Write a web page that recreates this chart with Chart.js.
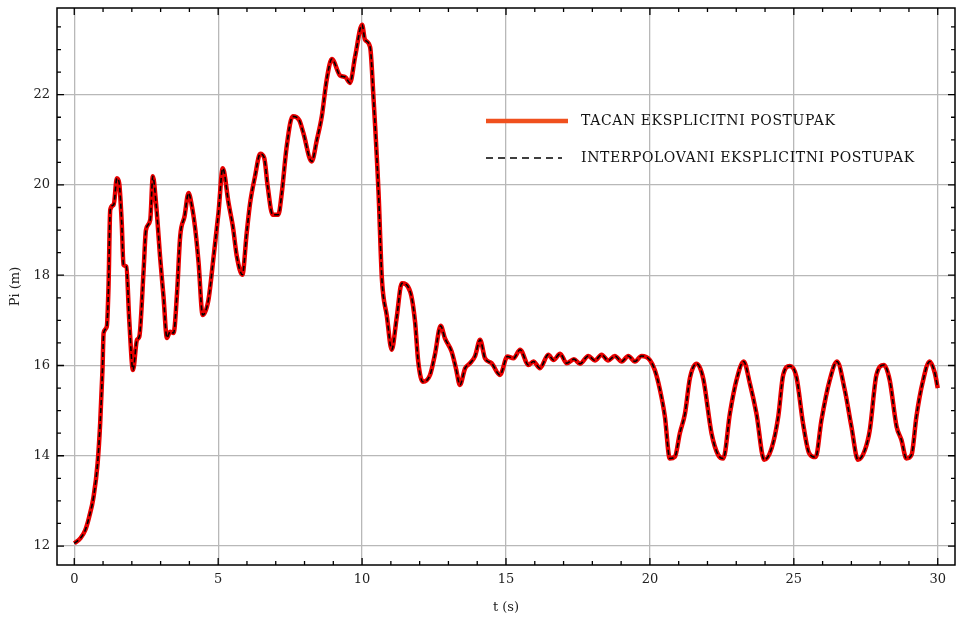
<!DOCTYPE html>
<html>
<head>
<meta charset="utf-8">
<script src="https://cdn.jsdelivr.net/npm/chart.js@4"></script>
<style>
  body { margin: 0; background: #fff; }
</style>
</head>
<body>
<canvas id="myChart" width="957" height="620"></canvas>
<script>
// t (s) and Pi (m)
const tValues = [0, 0.21, 0.38, 0.52, 0.67, 0.81, 0.90, 0.98, 1.02, 1.13, 1.19, 1.25, 1.37, 1.48, 1.56, 1.65, 1.71, 1.81, 1.91, 2.04,
  2.18, 2.26, 2.41, 2.49, 2.64, 2.73, 2.84, 2.99, 3.10, 3.22, 3.33, 3.45, 3.57, 3.68, 3.83, 3.97, 4.09, 4.20, 4.32, 4.46,
  4.66, 4.84, 5.01, 5.16, 5.36, 5.51, 5.65, 5.84, 5.99, 6.11, 6.28, 6.46, 6.60, 6.72, 6.89, 7.09, 7.21, 7.38, 7.59, 7.82,
  7.96, 8.25, 8.43, 8.60, 8.77, 8.95, 9.24, 9.41, 9.58, 9.76, 10.0, 10.10, 10.28, 10.39, 10.57, 10.69, 10.86, 11.03, 11.20, 11.38,
  11.67, 11.84, 11.95, 12.11, 12.36, 12.53, 12.73, 12.88, 13.11, 13.26, 13.40, 13.58, 13.75, 13.92, 14.10, 14.27, 14.50, 14.79, 15.05, 15.26,
  15.49, 15.78, 15.95, 16.18, 16.47, 16.65, 16.88, 17.11, 17.36, 17.57, 17.86, 18.09, 18.32, 18.55, 18.78, 19.02, 19.25, 19.48, 19.71, 20.0,
  20.17, 20.35, 20.52, 20.69, 20.87, 21.04, 21.22, 21.39, 21.62, 21.85, 22.14, 22.37, 22.55, 22.78, 23.01, 23.26, 23.47, 23.70, 23.97, 24.23,
  24.46, 24.63, 24.86, 25.09, 25.32, 25.53, 25.76, 25.96, 26.25, 26.50, 26.77, 27.0, 27.23, 27.47, 27.64, 27.87, 28.13, 28.33, 28.57, 28.74,
  28.91, 29.09, 29.26, 29.47, 29.72, 29.90, 30.0];
const piTacan = [12.06, 12.17, 12.35, 12.65, 13.09, 13.83, 14.72, 15.9, 16.72, 16.86, 17.75, 19.45, 19.56, 20.15, 20.04, 19.15, 18.23, 18.19, 17.01, 15.9,
  16.57, 16.64, 18.12, 19.0, 19.23, 20.19, 19.6, 18.34, 17.53, 16.61, 16.75, 16.72, 17.6, 18.86, 19.3, 19.82, 19.52, 19.04, 18.27, 17.12,
  17.45, 18.41, 19.38, 20.37, 19.6, 19.08, 18.41, 18.01, 18.93, 19.6, 20.19, 20.69, 20.6, 19.97, 19.34, 19.34, 19.82, 20.85, 21.52, 21.43,
  21.15, 20.52, 21.0, 21.52, 22.33, 22.79, 22.42, 22.39, 22.26, 22.85, 23.55, 23.22, 23.05, 22.0, 19.85, 17.9, 17.1, 16.35, 17.05, 17.82,
  17.64, 16.97, 16.09, 15.64, 15.79, 16.24, 16.88, 16.6, 16.31, 15.94, 15.57, 15.94, 16.05, 16.2, 16.57, 16.16, 16.05, 15.79, 16.2, 16.16,
  16.35, 16.01, 16.09, 15.94, 16.24, 16.12, 16.26, 16.05, 16.14, 16.04, 16.21, 16.11, 16.24, 16.11, 16.21, 16.09, 16.21, 16.09, 16.21, 16.12,
  15.9, 15.46, 14.87, 13.94, 13.98, 14.5, 14.94, 15.72, 16.04, 15.72, 14.5, 14.02, 13.94, 14.94, 15.68, 16.09, 15.61, 14.94, 13.91, 14.17,
  14.87, 15.79, 15.99, 15.75, 14.72, 14.06, 13.97, 14.79, 15.68, 16.09, 15.46, 14.65, 13.91, 14.13, 14.57, 15.79, 16.01, 15.68, 14.65, 14.35,
  13.94, 14.02, 14.87, 15.61, 16.09, 15.83, 15.5];
// the interpolated solution lies on top of the exact one
const piInterp = piTacan.slice();

const xTicks = [0, 5, 10, 15, 20, 25, 30];
const yTicks = [12, 14, 16, 18, 20, 22];
const seriesNames = ['TACAN EKSPLICITNI POSTUPAK', 'INTERPOLOVANI EKSPLICITNI POSTUPAK'];

const serif = "'DejaVu Serif', 'Liberation Serif', serif";

function toPoints(xs, ys) {
  return xs.map((x, i) => ({x: x, y: ys[i]}));
}

// frame, inward ticks on all four sides, and the legend inside the plot
const framePlugin = {
  id: 'frame',
  afterDraw(chart) {
    const ctx = chart.ctx;
    const a = chart.chartArea;
    const xs = chart.scales.x, ys = chart.scales.y;
    ctx.save();
    ctx.strokeStyle = '#000';
    ctx.lineWidth = 1.5;
    ctx.strokeRect(a.left, a.top, a.right - a.left, a.bottom - a.top);

    ctx.lineWidth = 1.3;
    ctx.beginPath();
    for (let v = 0; v <= 30; v += 1) {
      const p = xs.getPixelForValue(v);
      const len = v % 5 === 0 ? 7 : 4;
      ctx.moveTo(p, a.bottom); ctx.lineTo(p, a.bottom - len);
      ctx.moveTo(p, a.top); ctx.lineTo(p, a.top + len);
    }
    for (let v = 12; v <= 23.5; v += 0.5) {
      const p = ys.getPixelForValue(v);
      const len = v % 2 === 0 ? 7 : 4;
      ctx.moveTo(a.left, p); ctx.lineTo(a.left + len, p);
      ctx.moveTo(a.right, p); ctx.lineTo(a.right - len, p);
    }
    ctx.stroke();

    // legend
    ctx.font = '14px ' + serif;
    ctx.letterSpacing = '0.6px';
    ctx.fillStyle = '#111';
    ctx.textBaseline = 'middle';
    ctx.lineWidth = 4.5;
    ctx.strokeStyle = '#f0501e';
    ctx.beginPath(); ctx.moveTo(486, 121); ctx.lineTo(568, 121); ctx.stroke();
    ctx.fillText(seriesNames[0], 581, 121);
    ctx.lineWidth = 1.5;
    ctx.strokeStyle = '#000';
    ctx.setLineDash([7, 5]);
    ctx.beginPath(); ctx.moveTo(486, 158); ctx.lineTo(562, 158); ctx.stroke();
    ctx.setLineDash([]);
    ctx.fillText(seriesNames[1], 581, 158);
    ctx.restore();
  }
};

new Chart('myChart', {
  type: 'line',
  data: {
    datasets: [{
      label: seriesNames[0],
      data: toPoints(tValues, piTacan),
      borderColor: '#e80000',
      borderWidth: 4.5,
      pointRadius: 0,
      cubicInterpolationMode: 'monotone',
      order: 2
    }, {
      label: seriesNames[1],
      data: toPoints(tValues, piInterp),
      borderColor: '#000',
      borderWidth: 1.6,
      borderDash: [5, 3],
      pointRadius: 0,
      cubicInterpolationMode: 'monotone',
      order: 1
    }]
  },
  options: {
    responsive: false,
    animation: false,
    events: [],
    layout: {padding: {top: 8, right: 2, left: 0, bottom: 0}},
    plugins: {
      legend: {display: false},
      tooltip: {enabled: false}
    },
    scales: {
      x: {
        type: 'linear',
        min: -0.6,
        max: 30.6,
        afterBuildTicks: s => { s.ticks = xTicks.map(v => ({value: v})); },
        afterFit: s => { s.height = 55; },
        grid: {color: '#b8b8b8', lineWidth: 1.3, drawTicks: false},
        border: {display: false},
        ticks: {padding: 7, color: '#222', font: {family: serif, size: 13}},
        title: {display: true, text: 't (s)', color: '#222', font: {family: serif, size: 13}, padding: {top: 0, bottom: 5}}
      },
      y: {
        min: 11.58,
        max: 23.92,
        afterBuildTicks: s => { s.ticks = yTicks.map(v => ({value: v})); },
        afterFit: s => { s.width = 57; s.paddingTop = 0; s.paddingBottom = 0; },
        grid: {color: '#b8b8b8', lineWidth: 1.3, drawTicks: false},
        border: {display: false},
        ticks: {padding: 7, color: '#222', font: {family: serif, size: 13}},
        title: {display: true, text: 'Pi (m)', color: '#222', font: {family: serif, size: 13}, padding: {top: 8, bottom: 0}}
      }
    }
  },
  plugins: [framePlugin]
});
</script>
</body>
</html>
